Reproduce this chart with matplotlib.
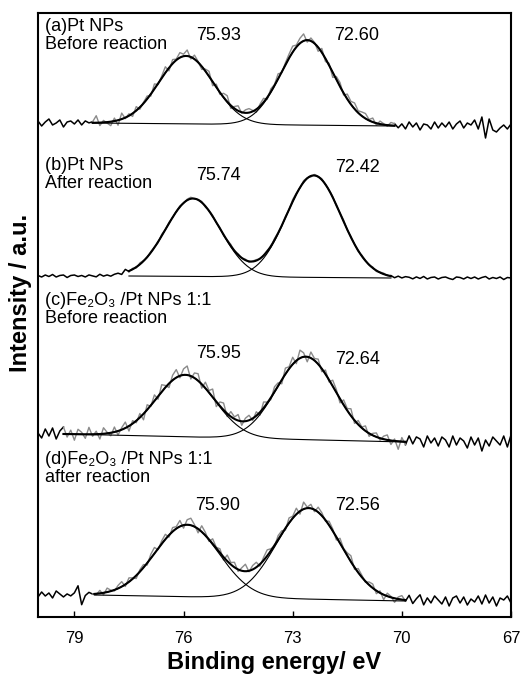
import numpy as np
import matplotlib

matplotlib.use("Agg")
import matplotlib.pyplot as plt

plt.rcParams["font.family"] = ["Liberation Sans", "DejaVu Sans"]

# binding energy grid of the measured spectra (eV)
energy = np.round(np.arange(80.0, 66.95, -0.1), 2)

panel_titles = [
    "(a)Pt NPs\nBefore reaction",
    "(b)Pt NPs\nAfter reaction",
    "(c)Fe\u2082O\u2083 /Pt NPs 1:1\nBefore reaction",
    "(d)Fe\u2082O\u2083 /Pt NPs 1:1\nafter reaction",
]
peak_centers = [[75.93, 72.60], [75.74, 72.42], [75.95, 72.64], [75.90, 72.56]]
peak_heights = [[68, 85], [78, 102], [62, 83], [72, 91]]
peak_sigmas = [[0.75, 0.72], [0.75, 0.75], [0.8, 0.8], [0.88, 0.88]]
background = [(494, 491), (341, 339), (183, 175), (22, 16)]
fit_range = [(78.5, 70.2), (77.5, 70.3), (79.3, 69.9), (78.45, 69.9)]

noise_a = [2, -3, 1, 4, -2, 0, 3, -4, 1, 2,
           -1, 3, -2, 2, 0, 1, 7, -3, 2, -1,
           -4, 3, -5, 6, -1, 2, -3, 4, -2, 1,
           3, -2, 5, -1, 2, 6, -3, 4, 1, 5,
           2, 6, -2, 4, 1, -3, 2, 5, -4, 3,
           -2, 4, 6, -3, 2, 5, -1, 3, 4, 1,
           -3, 2, 4, -2, 3, 1, 5, -1, 2, 4,
           6, 2, 5, 7, -2, 3, 1, -4, 4, -3,
           2, -5, 3, 4, -2, 5, 3, 6, 2, 4,
           5, 1, 4, -2, 3, 1, -1, 3, 2, -2,
           2, -3, 4, -1, 3, -4, 2, 1, -3, 4,
           -2, 3, -1, 4, -3, 2, 5, -2, 3, 1,
           6, -3, 9, -12, 7, -4, -6, -2, 1, -3,
           2]
noise_b = [0.5, -1, 1, -0.5, 1.5, -1, 0.5, 1, -1.5, 0.5,
           1, -0.5, 0.5, -1, 1, 0, -1, 1.5, -0.5, 0.5,
           -1, 0.5, 1, -1, 3, -0.5, 1, -1, 1.5, 0.5,
           -0.5, 1, 0.5, -1, 1.5, 0, 1, -0.5, 0.5, 1,
           -0.5, 1, 1.5, -0.5, 0.5, 1, -1, 0.5, 1, -0.5,
           1, -1, 0.5, 1.5, -0.5, 1, 0, 1, -1, 0.5,
           1, -0.5, 0.5, 1, -1, 1.5, 0.5, -0.5, 1, 0,
           2, 1, -0.5, 1.5, 0.5, -1, 1, 0.5, 1, -0.5,
           0.5, 1, -1, 0.5, 1.5, -0.5, 1, 0, -1, 1,
           0.5, -0.5, 1, -1, 0.5, 1, -0.5, 0.5, -1, 1,
           -0.5, 1, 0.5, -1, 1, -0.5, 1.5, -1, 0.5, 1,
           -1, 0.5, 1, -0.5, -1.5, 1, 0.5, -1, 1, -0.5,
           1, -1, 0.5, 1.5, -1, 0.5, -0.5, 1, -1.5, 0.5,
           0]
noise_c = [1, -4, 5, -2, 6, -5, 3, 7, -3, 4,
           -6, 5, 2, -4, 7, -2, 3, -5, 6, 1,
           -3, 5, -4, 2, 6, -5, 3, -2, 4, -6,
           5, -1, 6, -3, 7, 2, -4, 5, 8, -2,
           6, 9, -3, 5, 7, -4, 6, 2, 8, -5,
           4, 7, -3, 5, 2, 6, -4, 3, 5, -2,
           4, -3, 6, 1, -2, 5, 3, -4, 6, 2,
           7, -3, 8, 4, -5, 6, 2, 5, -3, 4,
           -2, 6, 3, -4, 5, 2, 7, -3, 4, 1,
           5, -3, 2, 4, -2, 3, 5, -4, 2, -8,
           4, -3, 6, -2, 5, 3, -5, 6, -1, 4,
           -4, 5, 2, -5, 6, -3, 4, 1, -6, 5,
           -3, 4, -9, 2, -4, 5, 1, -3, 6, -5,
           7]
noise_d = [-2, 3, -1, 2, -3, 4, 1, -2, 1, -1,
           2, 9, -10, -1, 2, 0, -1, 3, -2, 4,
           1, -1, 3, 5, -2, 4, 1, -3, 2, 3,
           -2, 4, 6, -1, 3, 5, -2, 4, 2, 6,
           -3, 5, 7, 2, -4, 6, 3, -2, 5, 1,
           4, -3, 6, 2, 5, -2, 3, 7, -1, 4,
           5, -2, 3, 6, 2, -1, 4, 3, -2, 5,
           2, 6, -3, 7, 1, 4, -2, 5, 3, -1,
           4, 2, -3, 5, 1, 3, 6, -2, 4, 2,
           -1, 3, 4, -3, 2, -5, 3, 1, -4, 2,
           4, -1, 5, -3, 2, 6, -4, 3, -2, 5,
           1, -3, 4, -5, 3, 5, -2, 4, -4, 2,
           -1, 5, -3, 6, -2, 4, -5, 3, 1, 5,
           -2]
noises = [noise_a, noise_b, noise_c, noise_d]

# annotation positions (eV, intensity) for title and peak values
title_pos = [(79.8, 599), (79.8, 460), (79.8, 325), (79.8, 166)]
value_pos = [[(75.05, 582), (71.23, 581)], [(75.05, 442), (71.23, 450)],
             [(75.05, 264), (71.23, 257)], [(75.05, 111), (71.23, 111)]]


def gauss(x, c, h, s):
    return h * np.exp(-0.5 * ((x - c) / s) ** 2)


fig = plt.figure(figsize=(5.24, 6.8), dpi=100)
ax = fig.add_axes([38 / 524, 63 / 680, 473 / 524, 604 / 680])

for i in range(4):
    hi, lo = fit_range[i]
    bl, br = background[i]
    noise = np.array(noises[i], dtype=float)

    # background: flat outside fit window, linear inside
    t = np.clip((hi - energy) / (hi - lo), 0, 1)
    bg = bl + (br - bl) * t
    env = bg.copy()
    for c, h, s in zip(peak_centers[i], peak_heights[i], peak_sigmas[i]):
        env = env + gauss(energy, c, h, s)
    raw = env + noise

    inside = (energy <= hi + 0.05) & (energy >= lo - 0.05)
    idx = np.where(inside)[0]
    left = slice(0, idx[0] + 1)
    right = slice(idx[-1], len(energy))
    ax.plot(energy[left], raw[left], color="black", lw=1.1)
    ax.plot(energy[right], raw[right], color="black", lw=1.1)
    ax.plot(energy[idx[0]:idx[-1] + 1], raw[idx[0]:idx[-1] + 1], color="#8a8a8a", lw=1.0)

    # fitted components and envelope on a fine grid
    xf = np.linspace(hi, lo, 300)
    bgf = bl + (br - bl) * (hi - xf) / (hi - lo)
    envf = bgf.copy()
    for c, h, s in zip(peak_centers[i], peak_heights[i], peak_sigmas[i]):
        comp = gauss(xf, c, h, s)
        ax.plot(xf, bgf + comp, color="black", lw=0.8)
        envf = envf + comp
    ax.plot(xf, envf, color="black", lw=1.5)

    ax.text(*title_pos[i], panel_titles[i], fontsize=13, va="top", ha="left",
            linespacing=1.1)
    for (vx, vy), c in zip(value_pos[i], peak_centers[i]):
        ax.text(vx, vy, f"{c:.2f}", fontsize=13, ha="center", va="center")

ax.set_xlim(80, 67)
ax.set_ylim(0, 604)
ax.set_xticks([79, 76, 73, 70, 67])
ax.set_yticks([])
ax.tick_params(axis="x", direction="in", length=4, width=1, labelsize=12, pad=10)
for sp in ax.spines.values():
    sp.set_linewidth(1.5)
ax.set_xlabel("Binding energy/ eV", fontsize=17, fontweight="bold", labelpad=4)
ax.set_ylabel("Intensity / a.u.", fontsize=17, fontweight="bold")
ax.yaxis.set_label_coords(-0.012, 0.536)

fig.savefig("out.png", dpi=100)
